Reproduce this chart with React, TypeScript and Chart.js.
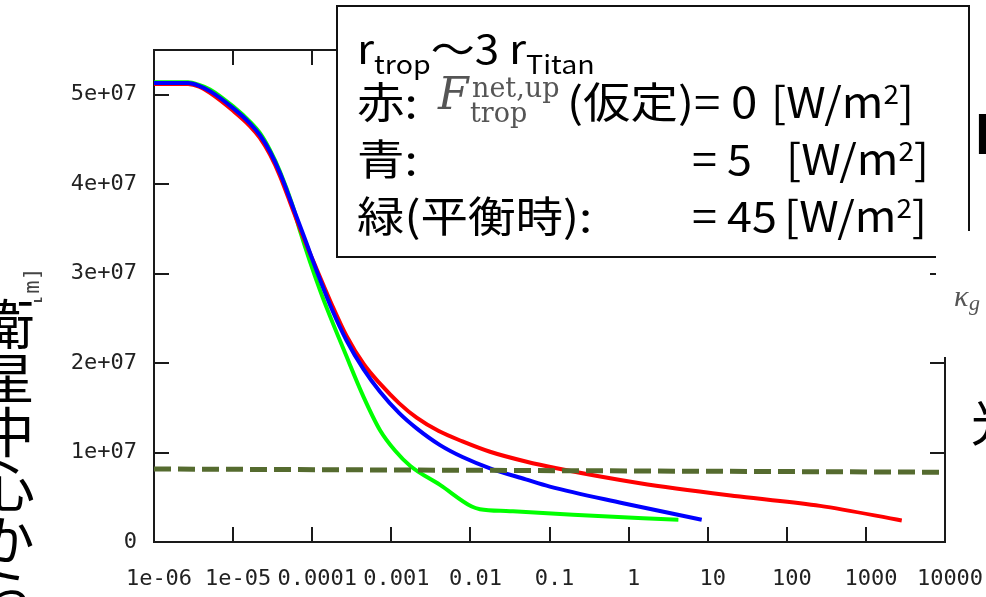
import React, { useEffect, useRef } from "react";
import { Chart, registerables } from "chart.js";

Chart.register(...registerables);

// Axis ticks
const xTickValues = [1e-6, 1e-5, 1e-4, 1e-3, 1e-2, 1e-1, 1, 10, 100, 1000, 10000];
const xTickLabels = ["1e-06", "1e-05", "0.0001", "0.001", "0.01", "0.1", "1", "10", "100", "1000", "10000"];
const yTickValues = [0, 1e7, 2e7, 3e7, 4e7, 5e7];
const yTickLabels = ["0", "1e+07", "2e+07", "3e+07", "4e+07", "5e+07"];

// Red: F_trop^{net,up} = 0 W/m^2  (optical depth, radius [m])
const redTau = [1e-6, 2.7e-6, 3.72e-6, 5.1e-6, 1e-5, 1.63e-5, 2.19e-5, 2.93e-5, 3.92e-5, 5.71e-5, 8.12e-5, 1.14e-4, 1.78e-4, 2.73e-4, 4.47e-4, 7.2e-4, 1.26e-3, 2.09e-3, 3.98e-3, 7.94e-3, 0.0177, 0.05, 0.123, 1.39, 25.5, 263, 2840];
const redRadius = [5.12e7, 5.12e7, 5.09e7, 5.02e7, 4.82e7, 4.65e7, 4.515e7, 4.33e7, 4.09e7, 3.71e7, 3.36e7, 3.05e7, 2.65e7, 2.3e7, 1.99e7, 1.77e7, 1.55e7, 1.39e7, 1.24e7, 1.125e7, 1.009e7, 9.0e6, 8.24e6, 6.57e6, 5.08e6, 4.04e6, 2.41e6];

// Blue: 5 W/m^2
const blueTau = [1e-6, 2.7e-6, 3.72e-6, 5.1e-6, 1e-5, 1.63e-5, 2.19e-5, 2.93e-5, 3.92e-5, 5.71e-5, 8.12e-5, 1.14e-4, 1.78e-4, 2.73e-4, 4.47e-4, 7.2e-4, 1.26e-3, 2.09e-3, 4.13e-3, 7.94e-3, 0.0177, 0.05, 0.101, 0.85, 8.4];
const blueRadius = [5.13e7, 5.13e7, 5.1e7, 5.04e7, 4.85e7, 4.68e7, 4.547e7, 4.363e7, 4.124e7, 3.744e7, 3.384e7, 3.03e7, 2.6e7, 2.25e7, 1.93e7, 1.68e7, 1.44e7, 1.27e7, 1.083e7, 9.5e6, 8.24e6, 7.0e6, 6.19e6, 4.34e6, 2.48e6];

// Green: 45 W/m^2 (equilibrium)
const greenTau = [1e-6, 2.7e-6, 3.72e-6, 5.1e-6, 1e-5, 1.63e-5, 2.19e-5, 2.93e-5, 3.92e-5, 5.71e-5, 7.0e-5, 1.26e-4, 2.73e-4, 4.47e-4, 7.2e-4, 1.12e-3, 1.74e-3, 4.13e-3, 0.0104, 0.0132, 0.0316, 0.198, 4.26];
const greenRadius = [5.14e7, 5.14e7, 5.11e7, 5.06e7, 4.87e7, 4.7e7, 4.57e7, 4.38e7, 4.14e7, 3.75e7, 3.48e7, 2.81e7, 2.07e7, 1.62e7, 1.25e7, 1.02e7, 8.5e6, 6.38e6, 3.96e6, 3.67e6, 3.45e6, 3.04e6, 2.48e6];

// Tropopause radius (dashed)
const tropTau = [1e-6, 1e4];
const tropRadius = [8.16e6, 7.8e6];

const pts = (xs: number[], ys: number[]) => xs.map((x, i) => ({ x, y: ys[i] }));

const framePlugin = {
  id: "gnuFrame",
  beforeDatasetsDraw(chart: any) {
    const { ctx, chartArea, scales } = chart;
    const { left, right, top, bottom } = chartArea;
    const tl = 15;
    ctx.save();
    ctx.strokeStyle = "#1a1a1a";
    ctx.lineWidth = 2;
    ctx.strokeRect(left, top, right - left, bottom - top);
    ctx.beginPath();
    xTickValues.forEach((v) => {
      const px = Math.round(scales.x.getPixelForValue(v));
      if (px > left + 2 && px < right - 2) {
        ctx.moveTo(px, bottom);
        ctx.lineTo(px, bottom - tl);
        ctx.moveTo(px, top);
        ctx.lineTo(px, top + tl);
      }
    });
    yTickValues.forEach((v) => {
      const py = Math.round(scales.y.getPixelForValue(v));
      if (py > top + 2 && py < bottom - 2) {
        ctx.moveTo(left, py);
        ctx.lineTo(left + tl, py);
        ctx.moveTo(right, py);
        ctx.lineTo(right - tl, py);
      }
    });
    ctx.stroke();
    ctx.restore();
  },
};

const abs = (left: number, top: number, extra: React.CSSProperties = {}): React.CSSProperties => ({
  position: "absolute",
  left,
  top,
  lineHeight: 1,
  whiteSpace: "nowrap",
  ...extra,
});

const cjk = "'Noto Sans CJK JP', 'Noto Sans', sans-serif";
const serif = "'DejaVu Serif', 'Liberation Serif', serif";
const mathStyle: React.CSSProperties = { fontFamily: serif, color: "#555", filter: "blur(0.4px)" };
const boxText: React.CSSProperties = {
  fontFamily: cjk,
  fontSize: 42,
  color: "#000",
  transform: "scaleX(1.13)",
  transformOrigin: "0 0",
};
const unitText: React.CSSProperties = { ...boxText, transform: "scaleX(1.07)" };
const sup2 = <span style={{ fontSize: 26, position: "relative", top: -14 }}>2</span>;

export default function App() {
  const canvasRef = useRef<HTMLCanvasElement | null>(null);

  useEffect(() => {
    if (!canvasRef.current) return;
    const tickFont = { family: "'DejaVu Sans Mono', monospace", size: 22 };
    const curve = (data: any, color: string) => ({
      data,
      borderColor: color,
      borderWidth: 4,
      pointRadius: 0,
      cubicInterpolationMode: "monotone",
      clip: false,
    });
    const chart = new Chart(canvasRef.current, {
      type: "line",
      data: {
        datasets: [
          {
            data: pts(tropTau, tropRadius),
            borderColor: "#556b2f",
            borderWidth: 5,
            borderDash: [17, 7],
            pointRadius: 0,
            tension: 0,
            clip: false,
          },
          curve(pts(blueTau, blueRadius), "#0000ff"),
          curve(pts(redTau, redRadius), "#ff0000"),
          curve(pts(greenTau, greenRadius), "#00ff00"),
        ] as any,
      },
      options: {
        animation: false,
        responsive: false,
        devicePixelRatio: 1,
        layout: { padding: { top: 50, right: 41, left: 0, bottom: 0 } },
        plugins: { legend: { display: false }, tooltip: { enabled: false } },
        scales: {
          x: {
            type: "logarithmic",
            min: 1e-6,
            max: 1e4,
            grid: { display: false, drawTicks: false },
            border: { display: false },
            afterBuildTicks: (scale: any) => {
              scale.ticks = xTickValues.map((value) => ({ value }));
            },
            afterFit: (scale: any) => {
              scale.height = 55;
              scale.paddingLeft = 0;
              scale.paddingRight = 0;
            },
            ticks: {
              autoSkip: false,
              maxRotation: 0,
              minRotation: 0,
              padding: 24,
              labelOffset: 5,
              color: "#222",
              font: tickFont,
              callback: (_v: any, i: number) => xTickLabels[i],
            },
          },
          y: {
            type: "linear",
            min: 0,
            max: 5.5e7,
            grid: { display: false, drawTicks: false },
            border: { display: false },
            afterBuildTicks: (scale: any) => {
              scale.ticks = yTickValues.map((value) => ({ value }));
            },
            afterFit: (scale: any) => {
              scale.width = 154;
              scale.paddingTop = 0;
              scale.paddingBottom = 0;
            },
            ticks: {
              padding: 17,
              color: "#222",
              font: tickFont,
              callback: (_v: any, i: number) => yTickLabels[i],
            },
          },
        },
      } as any,
      plugins: [framePlugin],
    });
    return () => chart.destroy();
  }, []);

  return (
    <div
      style={{
        position: "fixed",
        left: 0,
        top: 0,
        width: 986,
        height: 597,
        overflow: "hidden",
        background: "#fff",
      }}
    >
      <canvas ref={canvasRef} width={986} height={597} style={{ display: "block", position: "absolute", left: 0, top: 0 }} />

      {/* y-axis label of the plot */}
      <div
        style={abs(12, 276, {
          fontFamily: "'DejaVu Sans Mono', monospace",
          fontSize: 22,
          color: "#444",
          transform: "rotate(-90deg)",
          transformOrigin: "50% 50%",
        })}
      >
        [m]
      </div>

      {/* vertical caption on the left */}
      <div
        style={abs(-20, 297, {
          writingMode: "vertical-rl",
          fontFamily: cjk,
          fontSize: 54,
          color: "#000",
          background: "#fff",
        })}
      >
        衛星中心からの距離
      </div>

      {/* legend box */}
      <div
        style={{
          position: "absolute",
          left: 336,
          top: 5,
          width: 634,
          height: 253,
          border: "2px solid #111",
          background: "#fff",
          boxSizing: "border-box",
        }}
      />
      <div style={abs(357, 27, { ...boxText, fontSize: 40, transform: "scaleX(1.1)" })}>
        r<span style={{ fontSize: 26, position: "relative", top: 10 }}>trop</span>
        〜3 r<span style={{ fontSize: 26, position: "relative", top: 10 }}>Titan</span>
      </div>

      <div style={abs(357, 79, boxText)}>赤:</div>
      <div style={abs(438, 72, { ...mathStyle, fontSize: 44, fontStyle: "italic" })}>F</div>
      <div style={abs(472, 74, { ...mathStyle, fontSize: 27 })}>net,up</div>
      <div style={abs(470, 99, { ...mathStyle, fontSize: 27 })}>trop</div>
      <div style={abs(567, 79, boxText)}>(仮定)= 0</div>
      <div style={abs(771, 79, unitText)}>[W/m{sup2}]</div>

      <div style={abs(357, 136, boxText)}>青:</div>
      <div style={abs(692, 136, unitText)}>= 5</div>
      <div style={abs(786, 136, unitText)}>[W/m{sup2}]</div>

      <div style={abs(357, 193, boxText)}>緑(平衡時):</div>
      <div style={abs(692, 193, unitText)}>= 45</div>
      <div style={abs(784, 193, unitText)}>[W/m{sup2}]</div>

      {/* right-hand side text fragments */}
      <div style={abs(974, 104, { fontFamily: cjk, fontSize: 54, fontWeight: 700, color: "#000" })}>F</div>
      <div
        style={{
          position: "absolute",
          left: 936,
          top: 231,
          width: 50,
          height: 126,
          background: "#fff",
        }}
      />
      <div style={abs(954, 281, { ...mathStyle, fontFamily: "'Liberation Serif', serif", fontSize: 30, fontStyle: "italic" })}>κ</div>
      <div style={abs(969, 292, { ...mathStyle, fontFamily: "'Liberation Serif', serif", fontSize: 22, fontStyle: "italic" })}>g</div>
      <div style={abs(971, 394, { fontFamily: cjk, fontSize: 50, color: "#000" })}>光</div>
    </div>
  );
}
